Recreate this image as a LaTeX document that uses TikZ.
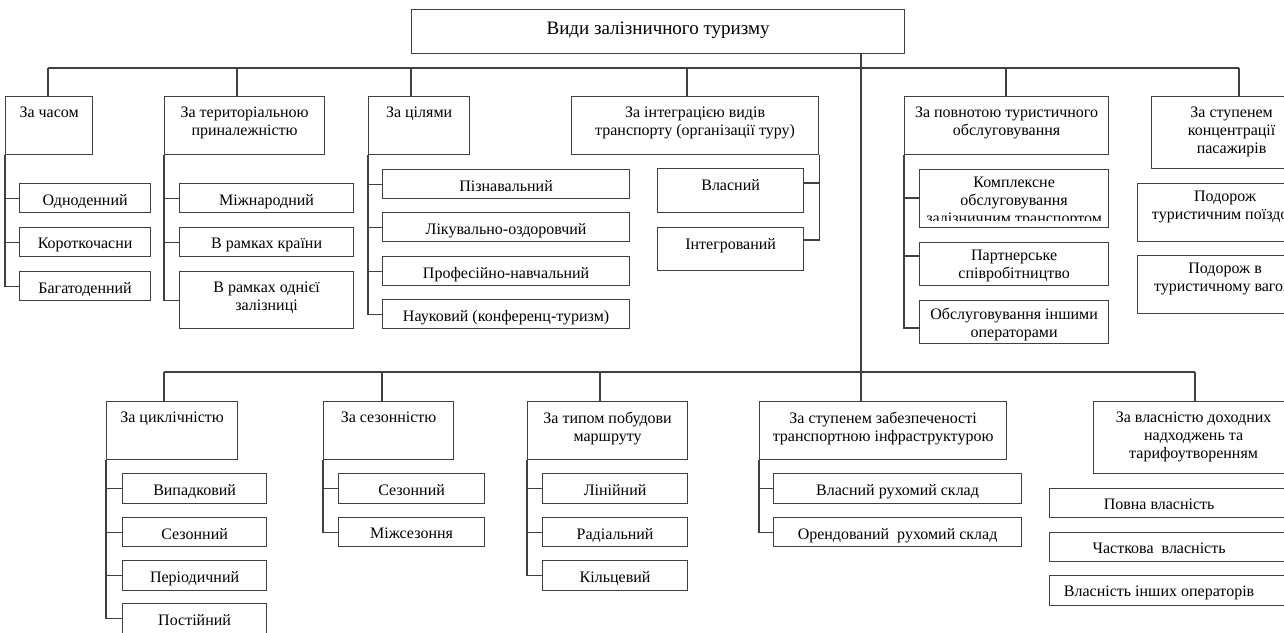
\documentclass[tikz,border=0pt]{standalone}
\usepackage{fontspec}
\setmainfont{Liberation Serif}
\begin{document}
\begin{tikzpicture}[x=1pt,y=-1pt]

\tikzset{box/.style={draw=black!75,line width=1.2pt,anchor=north west,inner sep=0pt},}
\tikzset{lbl/.style={anchor=north,align=center,inner sep=0pt,yshift=-11pt,font=\fontsize{16}{18}\selectfont},}
\tikzset{ln/.style={draw=black!75,line width=1.2pt},}

\useasboundingbox (0,0) rectangle (1284,632);

%ЗАГОЛОВОК
\draw (411,9) node[box,minimum width=493pt,minimum height=44pt] (title) {};
\node[lbl,yshift=-2pt,font=\fontsize{19}{22}\selectfont] at (title.north) {Види залізничного туризму};

%ВЕРХНІЙ РЯД
\draw (5,96) node[box,minimum width=87pt,minimum height=58pt] (chas) {};
\draw (164,96) node[box,minimum width=160pt,minimum height=58pt] (ter) {};
\draw (368,96) node[box,minimum width=101pt,minimum height=58pt] (cil) {};
\draw (571,96) node[box,minimum width=247pt,minimum height=58pt] (integ) {};
\draw (904,96) node[box,minimum width=204pt,minimum height=58pt] (povn) {};
\draw (1151,96) node[box,minimum width=160pt,minimum height=72pt] (konc) {};

\node[lbl] at (chas.north) {За часом};
\node[lbl] at (ter.north) {За територіальною\\приналежністю};
\node[lbl] at (cil.north) {За цілями};
\node[lbl] at (integ.north) {За інтеграцією видів\\транспорту (організації туру)};
\node[lbl] at (povn.north) {За повнотою туристичного\\обслуговування};
\node[lbl] at (konc.north) {За ступенем\\концентрації\\пасажирів};

\draw (19,183) node[box,minimum width=131pt,minimum height=29pt] (odn) {};
\draw (19,227) node[box,minimum width=131pt,minimum height=29pt] (krt) {};
\draw (19,271) node[box,minimum width=131pt,minimum height=29pt] (bag) {};
\node[lbl] at (odn.north) {Одноденний};
\node[lbl] at (krt.north) {Короткочасни};
\node[lbl] at (bag.north) {Багатоденний};

\draw (179,183) node[box,minimum width=174pt,minimum height=29pt] (mizh) {};
\draw (179,227) node[box,minimum width=174pt,minimum height=29pt] (krai) {};
\draw (179,271) node[box,minimum width=174pt,minimum height=57pt] (zal) {};
\node[lbl] at (mizh.north) {Міжнародний};
\node[lbl] at (krai.north) {В рамках країни};
\node[lbl] at (zal.north) {В рамках однієї\\залізниці};

\draw (382,169) node[box,minimum width=247pt,minimum height=29pt] (pizn) {};
\draw (382,212) node[box,minimum width=247pt,minimum height=29pt] (likv) {};
\draw (382,256) node[box,minimum width=247pt,minimum height=29pt] (prof) {};
\draw (382,299) node[box,minimum width=247pt,minimum height=29pt] (nauk) {};
\node[lbl] at (pizn.north) {Пізнавальний};
\node[lbl] at (likv.north) {Лікувально-оздоровчий};
\node[lbl] at (prof.north) {Професійно-навчальний};
\node[lbl] at (nauk.north) {Науковий (конференц-туризм)};

\draw (657,168) node[box,minimum width=146pt,minimum height=44pt] (vlasn) {};
\draw (657,227) node[box,minimum width=146pt,minimum height=43pt] (intgr) {};
\node[lbl] at (vlasn.north) {Власний};
\node[lbl] at (intgr.north) {Інтегрований};

\draw (919,169) node[box,minimum width=189pt,minimum height=58pt] (komp) {};
\draw (919,242) node[box,minimum width=189pt,minimum height=43pt] (partn) {};
\draw (919,300) node[box,minimum width=189pt,minimum height=43pt] (obsl) {};
\begin{scope}
\clip (komp.north west) rectangle ([yshift=8pt]komp.south east);
\node[lbl,yshift=3pt] at (komp.north) {Комплексне\\обслуговування\\залізничним транспортом};
\end{scope}
\node[lbl,yshift=3pt] at (partn.north) {Партнерське\\співробітництво};
\node[lbl,yshift=3pt] at (obsl.north) {Обслуговування іншими\\операторами};

\draw (1137,183) node[box,minimum width=175pt,minimum height=58pt] (poizd) {};
\draw (1137,255) node[box,minimum width=175pt,minimum height=58pt] (vagon) {};
\node[lbl,yshift=3pt] at (poizd.north) {Подорож\\туристичним поїздом};
\node[lbl,yshift=3pt] at (vagon.north) {Подорож в\\туристичному вагоні};

%НИЖНІЙ РЯД
\draw (106,401) node[box,minimum width=131pt,minimum height=58pt] (cykl) {};
\draw (323,401) node[box,minimum width=130pt,minimum height=58pt] (sez) {};
\draw (527,401) node[box,minimum width=160pt,minimum height=58pt] (typ) {};
\draw (759,401) node[box,minimum width=247pt,minimum height=58pt] (zab) {};
\draw (1093,401) node[box,minimum width=200pt,minimum height=72pt] (vlas) {};

\node[lbl] at (cykl.north) {За циклічністю};
\node[lbl] at (sez.north) {За сезонністю};
\node[lbl] at (typ.north) {За типом побудови\\маршруту};
\node[lbl] at (zab.north) {За ступенем забезпеченості\\транспортною інфраструктурою};
\node[lbl] at (vlas.north) {За власністю доходних\\надходжень та\\тарифоутворенням};

\draw (122,473) node[box,minimum width=144pt,minimum height=30pt] (vyp) {};
\draw (122,517) node[box,minimum width=144pt,minimum height=29pt] (sezn) {};
\draw (122,560) node[box,minimum width=144pt,minimum height=30pt] (period) {};
\draw (122,603) node[box,minimum width=144pt,minimum height=30pt] (post) {};
\node[lbl] at (vyp.north) {Випадковий};
\node[lbl] at (sezn.north) {Сезонний};
\node[lbl] at (period.north) {Періодичний};
\node[lbl] at (post.north) {Постійний};

\draw (338,473) node[box,minimum width=146pt,minimum height=30pt] (sez1) {};
\draw (338,517) node[box,minimum width=146pt,minimum height=29pt] (mizhs) {};
\node[lbl] at (sez1.north) {Сезонний};
\node[lbl] at (mizhs.north) {Міжсезоння};

\draw (542,473) node[box,minimum width=145pt,minimum height=30pt] (lin) {};
\draw (542,517) node[box,minimum width=145pt,minimum height=29pt] (rad) {};
\draw (542,560) node[box,minimum width=145pt,minimum height=30pt] (kilc) {};
\node[lbl] at (lin.north) {Лінійний};
\node[lbl] at (rad.north) {Радіальний};
\node[lbl] at (kilc.north) {Кільцевий};

\draw (773,473) node[box,minimum width=248pt,minimum height=30pt] (vrs) {};
\draw (773,517) node[box,minimum width=248pt,minimum height=29pt] (ors) {};
\node[lbl] at (vrs.north) {Власний рухомий склад};
\node[lbl] at (ors.north) {Орендований\ \ рухомий склад};

\draw (1049,488) node[box,minimum width=245pt,minimum height=29pt] (povna) {};
\draw (1049,532) node[box,minimum width=245pt,minimum height=29pt] (chast) {};
\draw (1049,575) node[box,minimum width=245pt,minimum height=30pt] (insh) {};
\node[lbl,xshift=-13pt] at (povna.north) {Повна власність};
\node[lbl,xshift=-13pt] at (chast.north) {Часткова\ \ власність};
\node[lbl,xshift=-13pt] at (insh.north) {Власність інших операторів};

%ЛІНІЇ
\coordinate (b1) at (48,68);
\coordinate (b2) at (237,68);
\coordinate (b3) at (411,68);
\coordinate (b4) at (687,68);
\coordinate (b5) at (1006,68);
\coordinate (b6) at (1239,68);
\coordinate (tr) at (861,372);
\coordinate (c1) at (164,372);
\coordinate (c2) at (382,372);
\coordinate (c3) at (600,372);
\coordinate (c5) at (1195,372);

\draw[ln] (b1) -- (b6);
\draw[ln] (b1) -- (b1 |- chas.north);
\draw[ln] (b2) -- (b2 |- ter.north);
\draw[ln] (b3) -- (b3 |- cil.north);
\draw[ln] (b4) -- (b4 |- integ.north);
\draw[ln] (b5) -- (b5 |- povn.north);
\draw[ln] (b6) -- (b6 |- konc.north);
\draw[ln] (title.south -| tr) -- (tr |- zab.north);
\draw[ln] (c1) -- (c5);
\draw[ln] (c1) -- (c1 |- cykl.north);
\draw[ln] (c2) -- (c2 |- sez.north);
\draw[ln] (c3) -- (c3 |- typ.north);
\draw[ln] (c5) -- (c5 |- vlas.north);

\draw[ln] (chas.south west) |- (odn.west);
\draw[ln] (chas.south west) |- (krt.west);
\draw[ln] (chas.south west) |- (bag.west);
\draw[ln] (ter.south west) |- (mizh.west);
\draw[ln] (ter.south west) |- (krai.west);
\draw[ln] (ter.south west) |- (zal.west);
\draw[ln] (cil.south west) |- (pizn.west);
\draw[ln] (cil.south west) |- (likv.west);
\draw[ln] (cil.south west) |- (prof.west);
\draw[ln] (cil.south west) |- (nauk.west);
\draw[ln] (integ.south east) |- ([yshift=-15pt]vlasn.north east);
\draw[ln] (integ.south east) |- ([yshift=-13pt]intgr.north east);
\draw[ln] (povn.south west) |- ([yshift=-29pt]komp.north west);
\draw[ln] (povn.south west) |- ([yshift=-14pt]partn.north west);
\draw[ln] (povn.south west) |- ([yshift=-28pt]obsl.north west);

\draw[ln] (cykl.south west) |- (vyp.west);
\draw[ln] (cykl.south west) |- (sezn.west);
\draw[ln] (cykl.south west) |- (period.west);
\draw[ln] (cykl.south west) |- (post.west);
\draw[ln] (sez.south west) |- (sez1.west);
\draw[ln] (sez.south west) |- (mizhs.west);
\draw[ln] (typ.south west) |- (lin.west);
\draw[ln] (typ.south west) |- (rad.west);
\draw[ln] (typ.south west) |- (kilc.west);
\draw[ln] (zab.south west) |- (vrs.west);
\draw[ln] (zab.south west) |- (ors.west);

\end{tikzpicture}
\end{document}
